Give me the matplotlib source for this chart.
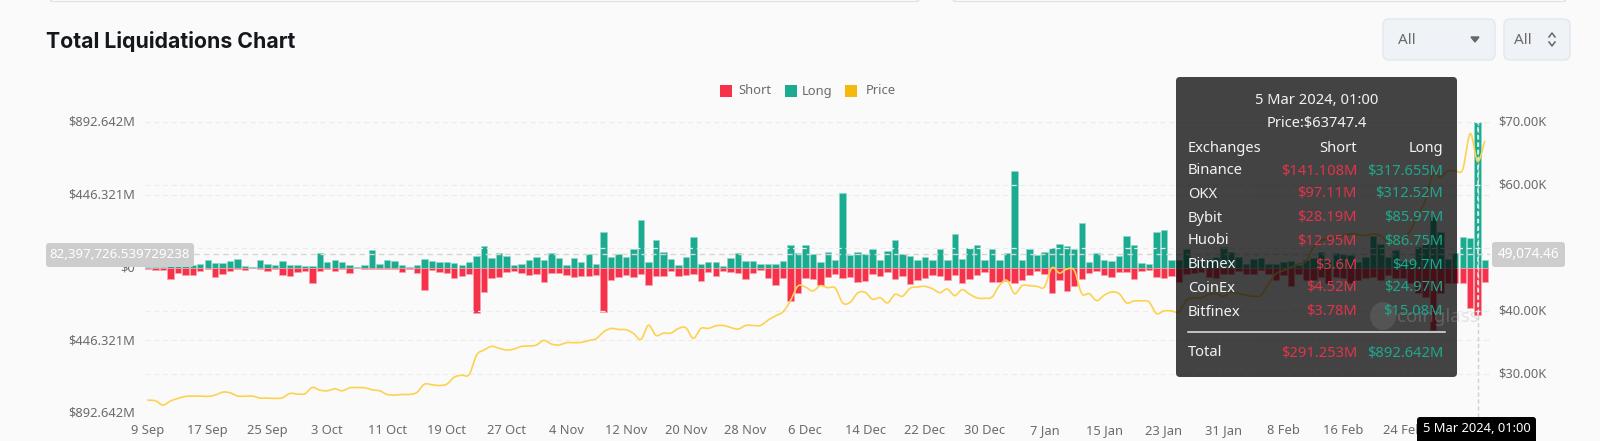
import numpy as np
import matplotlib

matplotlib.use("Agg")
import matplotlib.pyplot as plt
from matplotlib.patches import Ellipse, FancyBboxPatch, Rectangle
from matplotlib.transforms import ScaledTranslation

# Liquidations per day in $M
LONG = [
    4, 4, 4, 8, 8, 14, 14, 22, 43, 27, 27, 39, 53, 12, 6, 43, 22, 14, 37, 16,
    18, 12, 12, 88, 31, 43, 31, 18, 6, 18, 106, 20, 49, 39, 18, 4, 16, 51, 37, 33,
    33, 29, 18, 31, 73, 133, 59, 90, 71, 14, 20, 49, 67, 49, 92, 57, 14, 57, 31, 82,
    22, 218, 65, 80, 67, 116, 292, 31, 167, 96, 53, 18, 63, 188, 22, 31, 35, 12, 61, 92,
    37, 41, 22, 20, 20, 41, 139, 86, 137, 80, 35, 96, 49, 455, 78, 96, 84, 116, 49, 102,
    167, 80, 73, 49, 67, 49, 112, 49, 206, 55, 120, 139, 45, 116, 49, 90, 592, 49, 116, 75,
    94, 120, 147, 129, 116, 271, 35, 88, 47, 41, 73, 196, 141, 27, 22, 218, 228, 49, 49, 116,
    45, 39, 55, 65, 126, 96, 65, 20, 55, 61, 24, 20, 35, 41, 14, 45, 61, 96, 45, 86,
    82, 75, 35, 65, 192, 147, 65, 106, 41, 35, 126, 147, 310, 218, 55, 90, 188, 184, 892.642, 45,
]
SHORT = [
    10, 16, 18, 73, 33, 45, 47, 24, 8, 57, 41, 22, 10, 16, 6, 10, 24, 10, 47, 55,
    29, 20, 96, 24, 10, 22, 12, 33, 2, 12, 12, 12, 12, 12, 29, 12, 35, 137, 16, 29,
    31, 67, 53, 37, 277, 153, 67, 61, 27, 24, 35, 43, 37, 90, 35, 35, 45, 61, 55, 55,
    49, 273, 78, 59, 45, 61, 41, 108, 55, 53, 24, 53, 49, 41, 80, 27, 53, 20, 27, 33,
    71, 33, 18, 63, 106, 67, 206, 159, 67, 71, 108, 59, 37, 63, 59, 88, 82, 41, 53, 27,
    71, 53, 104, 78, 67, 43, 53, 78, 49, 94, 69, 49, 29, 90, 90, 82, 94, 75, 49, 22,
    37, 159, 78, 145, 112, 71, 35, 24, 43, 59, 27, 27, 71, 24, 16, 61, 67, 53, 90, 37,
    31, 27, 57, 67, 37, 37, 20, 41, 37, 16, 41, 78, 47, 114, 37, 78, 78, 57, 98, 57,
    67, 98, 78, 67, 57, 78, 47, 67, 67, 98, 159, 180, 384, 159, 98, 98, 98, 251, 291.253, 90,
]
PRICE = [
    25891, 25786, 25102, 25734, 26154, 26470, 26523, 26523, 26470, 26680,
    27154, 27049, 26523, 26523, 26523, 26207, 26207, 26154, 26260, 26943,
    26838, 26891, 27890, 27469, 27364, 27680, 27364, 27838, 27890, 27838,
    27522, 27364, 26786, 26680, 26786, 26786, 27101, 28416, 28311, 28206,
    28416, 29521, 29836, 29942, 33045, 33834, 34413, 34097, 33834, 33992,
    34413, 34465, 34623, 35359, 34781, 34623, 34991, 34991, 35044, 35359,
    35622, 36727, 37253, 37095, 37043, 36464, 35517, 37777, 36146, 36515,
    36515, 37251, 37356, 35673, 37251, 37251, 37672, 37724, 37409, 37146,
    37724, 37724, 37724, 38566, 39250, 39881, 41617, 43984, 43826, 43195,
    44036, 43721, 43668, 41301, 41406, 42879, 42984, 41880, 42143, 41301,
    42669, 42353, 43616, 43826, 43931, 43563, 42932, 43510, 42458, 43405,
    42669, 42090, 42038, 42248, 44089, 44878, 42774, 44036, 44036, 43931,
    43826, 46877, 46035, 46666, 46456, 42774, 42774, 41669, 42511, 43037,
    42774, 41301, 41617, 41617, 41459, 39618, 40039, 40039, 39881, 41722,
    42090, 42143, 42669, 42774, 42353, 43037, 42774, 42511, 42353, 42511,
    44352, 45930, 46456, 46982, 47508, 47876, 50138, 51190, 51453, 51716,
    51979, 52242, 52137, 51979, 52242, 51979, 50927, 51190, 51453, 52768,
    55398, 57502, 61710, 61184, 62236, 62236, 62499, 68180, 63747, 67233,
]

DATE_LABELS = [
    "9 Sep", "17 Sep", "25 Sep", "3 Oct", "11 Oct", "19 Oct", "27 Oct", "4 Nov",
    "12 Nov", "20 Nov", "28 Nov", "6 Dec", "14 Dec", "22 Dec", "30 Dec", "7 Jan",
    "15 Jan", "23 Jan", "31 Jan", "8 Feb", "16 Feb", "24 Feb",
]
LEFT_TICKS = [-892.642, -446.321, 0, 446.321, 892.642]
LEFT_LABELS = ["$892.642M", "$446.321M", "$0", "$446.321M", "$892.642M"]
# the $50.00K label sits behind the crosshair pill in the source
RIGHT_TICKS = [30000, 40000, 50000, 60000, 70000]
RIGHT_LABELS = ["$30.00K", "$40.00K", "", "$60.00K", "$70.00K"]

HOVER_INDEX = 178
HOVER_LONG = 82.3977
HOVER_PRICE = 49074.46
ROWS = [
    ("Binance", "$141.108M", "$317.655M"),
    ("OKX", "$97.11M", "$312.52M"),
    ("Bybit", "$28.19M", "$85.97M"),
    ("Huobi", "$12.95M", "$86.75M"),
    ("Bitmex", "$3.6M", "$49.7M"),
    ("CoinEx", "$4.52M", "$24.97M"),
    ("Bitfinex", "$3.78M", "$15.08M"),
]

WIDTH, HEIGHT = 1600, 441
BG = "#fafafa"
RED = "#f6324a"
GREEN = "#1bab90"
YELLOW = "#f5b80c"
TEXT = "#6b6b6b"
FONT = "Noto Sans"


def smooth_line(x, y, steps=8):
    # Catmull-Rom, the source chart draws a smoothed line
    x, y = np.asarray(x, float), np.asarray(y, float)
    px = np.concatenate([[x[0]], x, [x[-1]]])
    py = np.concatenate([[y[0]], y, [y[-1]]])
    t = np.linspace(0, 1, steps, endpoint=False)[:, None]
    out = []
    for p in (px, py):
        a, b, c, d = p[:-3, None], p[1:-2, None], p[2:-1, None], p[3:, None]
        s = 0.5 * (2 * b.T + (c - a).T * t + (2 * a - 5 * b + 4 * c - d).T * t**2
                   + (3 * b - a - 3 * c + d).T * t**3)
        out.append(s.T.ravel())
    return out[0], out[1]


def box(ax, x0, y0, x1, y1, radius=4, **kwargs):
    patch = FancyBboxPatch(
        (x0 + radius, y0 + radius),
        x1 - x0 - 2 * radius,
        y1 - y0 - 2 * radius,
        boxstyle=f"round,pad={radius},rounding_size={radius}",
        **kwargs,
    )
    ax.add_patch(patch)
    return patch


def nudge_labels(fig, labels, points):
    shift = ScaledTranslation(0, points / 72, fig.dpi_scale_trans)
    for label in labels:
        label.set_transform(label.get_transform() + shift)


def draw_chart(fig):
    left, right, top, bottom = 145, 1490, 122, 413
    rect = (left / WIDTH, 1 - bottom / HEIGHT, (right - left) / WIDTH, (bottom - top) / HEIGHT)
    ax = fig.add_axes(rect, facecolor="none")
    x = np.arange(len(LONG))

    ax.bar(x, LONG, width=0.86, color=GREEN, edgecolor="#93d8ca", linewidth=0.5, zorder=3)
    ax.bar(x, [-v for v in SHORT], width=0.86, color=RED, edgecolor="#f9a3ae", linewidth=0.5, zorder=3)
    ax.set_xlim(-0.4, 179.65)
    ax.set_ylim(-892.642, 892.642)
    ax.set_xticks(x[::8][: len(DATE_LABELS)], DATE_LABELS)
    ax.set_yticks(LEFT_TICKS, LEFT_LABELS)
    ax.tick_params(axis="x", length=0, pad=8, labelsize=9.3, labelcolor=TEXT)
    ax.tick_params(axis="y", length=0, pad=7, labelsize=9.3, labelcolor=TEXT)
    ax.grid(axis="y", color="#ececec", linestyle=(0, (4, 3)), linewidth=0.9, zorder=0)
    ax.set_axisbelow(True)
    nudge_labels(fig, ax.get_yticklabels(), 0.8)

    price_ax = ax.twinx()
    price_ax.set_zorder(ax.get_zorder() + 1)
    px, py = smooth_line(x, PRICE)
    price_ax.plot(px, py, color="#fdd250", linewidth=1.2, solid_capstyle="round", zorder=4)
    price_ax.set_ylim(23842, 69795)
    price_ax.set_yticks(RIGHT_TICKS, RIGHT_LABELS)
    price_ax.tick_params(axis="y", length=0, pad=6, labelsize=9.3, labelcolor=TEXT)
    price_ax.grid(axis="y", color="#ececec", linestyle=(0, (4, 3)), linewidth=0.9, zorder=0)
    price_ax.set_axisbelow(True)
    nudge_labels(fig, price_ax.get_yticklabels(), 1.4)

    # crosshair at the hovered bar
    ax.axhline(HOVER_LONG, color="#d6d6d6", linestyle=(0, (4, 3)), linewidth=1, zorder=5)
    ax.plot([HOVER_INDEX, HOVER_INDEX], [-960, 892.642], color="#cfcfcf", linestyle=(0, (3, 2)),
            linewidth=1, zorder=5, clip_on=False)
    ax.plot([HOVER_INDEX, HOVER_INDEX], [-SHORT[HOVER_INDEX], LONG[HOVER_INDEX]], color="#e8f7f3",
            linestyle=(0, (3, 2)), linewidth=1.1, zorder=6)

    for spine in list(ax.spines.values()) + list(price_ax.spines.values()):
        spine.set_visible(False)
    return ax, price_ax


def draw_page(ui):
    # cards cut off by the top edge
    for x0, x1 in [(49, 920), (952, 1567)]:
        box(ui, x0, -20, x1, 1.5, radius=5, facecolor="#ffffff", edgecolor="#e2e2e2", linewidth=1)

    ui.text(46, 41, "Total Liquidations Chart", fontsize=15.3, fontweight="bold",
            family="Inter", color="#14171c", va="center")

    for x0, x1 in [(1383, 1495), (1504, 1570)]:
        box(ui, x0, 19, x1, 60, radius=6, facecolor="#eff2f6", edgecolor="#e3e8f0", linewidth=1)
    ui.text(1398, 41, "All", fontsize=11, family=FONT, color=TEXT, va="center")
    ui.text(1514, 41, "All", fontsize=11, family=FONT, color=TEXT, va="center")
    ui.fill([1471, 1479, 1475], [37, 37, 42], color="#666666")
    ui.plot([1549, 1552, 1555], [37, 33, 37], color="#666666", linewidth=1.1)
    ui.plot([1549, 1552, 1555], [42, 46, 42], color="#666666", linewidth=1.1)

    for x0, color, label, tx in [
        (720, RED, "Short", 738),
        (785, GREEN, "Long", 802),
        (845, YELLOW, "Price", 866),
    ]:
        ui.add_patch(Rectangle((x0, 85), 11.5, 11.5, facecolor=color, edgecolor="none"))
        ui.text(tx, 91, label, fontsize=9.3, family=FONT, color=TEXT, va="center")


def draw_axis_pointers(ui):
    box(ui, 46, 243, 194, 267, radius=3, facecolor="#cdcdcd", edgecolor="none", zorder=4)
    ui.text(120, 255, "82,397,726.539729238", fontsize=9.6, family=FONT, color="#ffffff",
            ha="center", va="center", zorder=5)
    box(ui, 1492, 242, 1565, 267, radius=3, facecolor="#cdcdcd", edgecolor="none", zorder=4)
    ui.text(1528.5, 255, f"{HOVER_PRICE:,.2f}", fontsize=9.8, fontweight="medium", family=FONT,
            color="#ffffff", ha="center", va="center", zorder=5)
    box(ui, 1417, 417, 1536, 446, radius=3, facecolor="#000000", edgecolor="none", zorder=4)
    ui.text(1477, 429, "5 Mar 2024, 01:00", fontsize=9.3, fontweight="medium", family=FONT,
            color="#ffffff", ha="center", va="center", zorder=5)


def draw_tooltip(ui):
    # dark glass: the bars below show through darker than the panel itself
    box(ui, 1176, 77, 1457, 377, radius=4, facecolor="#090909", edgecolor="none", alpha=0.76, zorder=8)

    # watermark sits over the panel, faint
    ui.add_patch(Ellipse((1383, 316), 26, 28, facecolor="#b0b0b0", edgecolor="none", alpha=0.16, zorder=8.5))
    ui.text(1438, 317, "coinglass", fontsize=13.5, fontweight="bold", family=FONT,
            color="#aaaaaa", alpha=0.3, ha="center", va="center", zorder=8.5)

    white = "#f2f2f2"
    size = 10.6
    style = dict(fontsize=size, family=FONT, va="center", zorder=9)
    ui.text(1317, 100, "5 Mar 2024, 01:00", color=white, ha="center", **style)
    ui.text(1317, 124, "Price:$63747.4", color=white, ha="center", **style)
    ui.text(1188, 148, "Exchanges", color=white, **style)
    ui.text(1357, 148, "Short", color=white, ha="right", **style)
    ui.text(1443, 148, "Long", color=white, ha="right", **style)
    row_y = [171, 194, 218, 241, 265, 288, 312]
    for y, (name, short, long_) in zip(row_y, ROWS):
        ui.text(1188, y, name, color=white, **style)
        ui.text(1357, y, short, color="#e0344a", ha="right", **style)
        ui.text(1443, y, long_, color="#1fa78d", ha="right", **style)
    ui.plot([1188, 1445], [332, 332], color="#e6e6e6", linewidth=1.1, zorder=9)
    ui.text(1188, 353, "Total", color=white, **style)
    ui.text(1357, 353, "$291.253M", color="#e0344a", ha="right", **style)
    ui.text(1443, 353, "$892.642M", color="#1fa78d", ha="right", **style)


def main():
    plt.rcParams["font.family"] = [FONT, "DejaVu Sans"]
    fig = plt.figure(figsize=(WIDTH / 100, HEIGHT / 100), dpi=100, facecolor=BG)
    draw_chart(fig)

    ui = fig.add_axes((0, 0, 1, 1), facecolor="none", zorder=10)
    ui.set_xlim(0, WIDTH)
    ui.set_ylim(HEIGHT, 0)
    ui.axis("off")
    draw_page(ui)
    draw_axis_pointers(ui)
    draw_tooltip(ui)

    fig.savefig("out.png", dpi=100, facecolor=BG)
    plt.close(fig)


if __name__ == "__main__":
    main()
